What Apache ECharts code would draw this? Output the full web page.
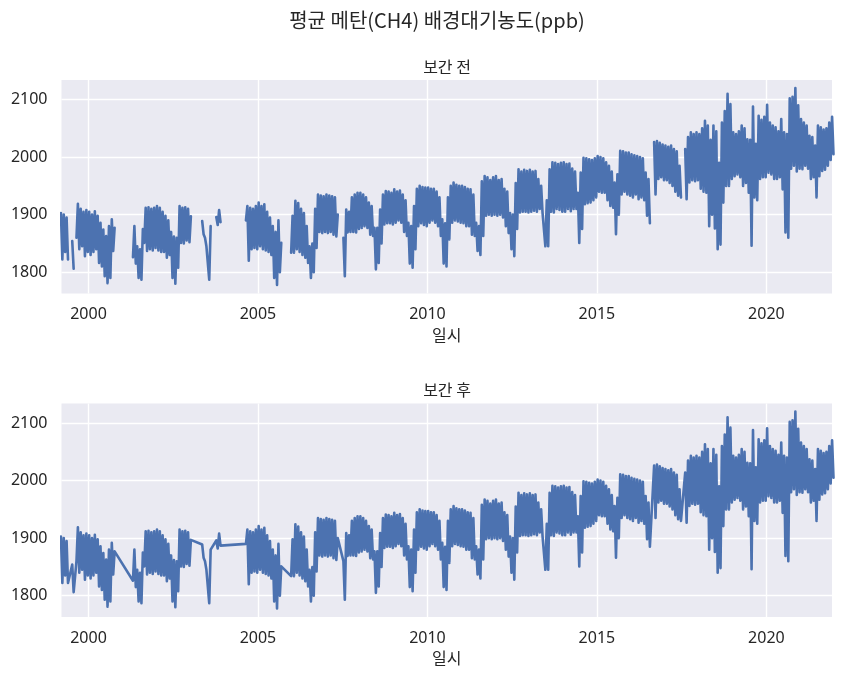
<!DOCTYPE html>
<html><head><meta charset="utf-8">
<script src="https://cdn.jsdelivr.net/npm/echarts@6/dist/echarts.min.js"></script>
<style>html,body{margin:0;padding:0;background:#fff}#c{width:845px;height:678px}</style>
</head><body><div id="c"></div>
<script>
const startYear = 1999;
const tickYears = [2000, 2005, 2010, 2015, 2020];
const yTicks = [1800, 1900, 2000, 2100];
const mainTitle = '평균 메탄(CH4) 배경대기농도(ppb)';
const panelTitles = ['보간 전', '보간 후'];
const xName = '일시';

// monthly upper envelope (Jan..Dec per row, 1999..2021); null = no measurement
const monthHigh = [
  null,null,1903,1900,1895,null,1854,null,1919,1910,1905,1908,
  1905,1900,1906,1898,1886,1874,1863,1880,1892,1877,null,null,
  null,null,null,null,1880,1845,1840,1875,1912,1913,1910,1912,
  1915,1912,1905,1898,1890,1870,1862,1860,1915,1912,1913,1910,
  1897,null,null,null,1889,1860,1845,1880,null,1896,1908,null,
  null,null,null,null,null,null,null,null,1915,1912,1910,1915,
  1921,1915,1918,1905,1895,1880,1870,1890,1851,null,null,null,
  1898,1924,1920,1910,1903,1880,1845,1850,1910,1935,1933,1932,
  1935,1933,1932,1930,1900,null,1860,1909,1905,1930,1935,1938,
  1938,1935,1930,1921,1915,1877,1877,1909,1935,1941,1940,1938,
  1944,1940,1942,1935,1925,1886,1880,1915,1945,1950,1948,1947,
  1947,1945,1945,1940,1930,1892,1885,1930,1950,1956,1952,1950,
  1950,1948,1945,1944,1935,1886,1880,1958,1967,1965,1960,1965,
  1967,1960,1962,1945,1940,1903,1900,1955,1979,1975,1978,1976,
  1978,1975,1976,1962,1950,1901,1925,1979,1991,1990,1988,1990,
  1991,1988,1989,1980,1975,1938,1973,1999,1998,1996,1995,1998,
  2002,2000,1998,1991,1985,1975,1956,1970,2011,2010,2008,2008,
  2005,2003,2002,2000,1998,1973,1962,null,2026,2028,2025,2022,
  2020,2018,2020,2014,2010,1985,null,2014,2035,2043,2040,2043,
  2040,2050,2063,2055,2030,2055,2045,1990,2060,2080,2110,2092,
  2043,2040,2045,2055,2050,2031,2030,2088,2023,2072,2065,2070,
  2091,2060,2055,2052,2045,2066,2043,2040,2102,2105,2120,2090,
  2066,2060,2055,2037,2035,2020,2055,2052,2048,2050,2060,2070
];
// monthly lower envelope
const monthLow = [
  null,null,1822,1835,1822,null,1806,1860,1840,1845,1828,1835,
  1830,1835,1840,1816,1810,1793,1781,1790,1837,null,null,null,
  null,null,null,1826,1815,1790,1787,1851,1837,1840,1838,1842,
  1838,1835,1835,1825,1830,1790,1780,1808,1851,1850,1855,1852,
  null,null,null,null,1866,1845,1787,null,null,1882,1887,null,
  null,null,null,null,null,null,null,1890,1820,1840,1842,1840,
  1845,1840,1838,1835,1830,1790,1778,1800,null,null,null,1834,
  1834,1840,1835,1830,1825,1816,1790,1800,1842,1870,1868,1870,
  1868,1870,1865,1862,null,null,1793,1869,1870,1870,1869,1875,
  1877,1880,1877,1865,1863,1805,1816,1850,1883,1885,1885,1883,
  1886,1890,1886,1870,1863,1815,1808,1840,1880,1885,1882,1880,
  1886,1890,1886,1880,1863,1815,1810,1857,1886,1890,1888,1886,
  1885,1880,1880,1865,1863,1837,1830,1863,1898,1900,1898,1900,
  1898,1900,1895,1880,1868,1840,1828,1875,1904,1905,1905,1904,
  1905,1907,1905,1910,1903,1845,1845,1905,1904,1910,1908,1905,
  1905,1910,1906,1910,1910,1851,1875,1918,1920,1921,1925,1930,
  1940,1938,1938,1925,1915,1912,1866,1900,1935,1940,1935,1933,
  1930,1935,1927,1930,1925,1898,1885,null,1935,1962,1965,1960,
  1960,1955,1950,1940,1933,1930,null,1927,1956,1960,1958,1960,
  1945,1940,1938,1880,1900,1876,1840,1848,1921,1950,1950,1962,
  1967,1970,1965,1950,1955,1938,1846,1930,1925,1962,1965,1965,
  1973,1970,1962,1962,1965,1944,1869,1860,1980,1985,1975,1980,
  1979,1985,1980,1962,1965,1930,1967,1976,1978,1985,1995,2005
];

function buildData() {
  const d = [];
  for (let i = 0; i < monthHigh.length; i++) {
    const yr = startYear + Math.floor(i / 12), m = i % 12;
    const h = monthHigh[i], l = monthLow[i];
    d.push([yr + (m + 0.25) / 12, h == null ? '-' : h]);
    d.push([yr + (m + 0.75) / 12, l == null ? '-' : l]);
  }
  return d;
}
const seriesData = buildData();

const CJK = '"Noto Sans CJK KR", "Noto Sans", sans-serif';
const TXT = '#262626';
const BG = '#EAEAF2';

function xAxisOf(gi) {
  return {
    type: 'value', gridIndex: gi, min: 1999.204, max: 2021.935,
    name: xName, nameLocation: 'middle', nameGap: 33,
    nameTextStyle: { fontSize: 16, fontFamily: CJK, color: TXT },
    axisLine: { show: false }, axisTick: { show: false, customValues: tickYears },
    axisLabel: { customValues: tickYears, margin: 13, fontSize: 16, fontFamily: '"Noto Sans", sans-serif', color: TXT, formatter: v => String(v) },
    splitLine: { show: true, lineStyle: { color: '#fff', width: 1.4 } }
  };
}
function yAxisOf(gi) {
  return {
    type: 'value', gridIndex: gi, min: 1763, max: 2134,
    axisLine: { show: false }, axisTick: { show: false, customValues: yTicks },
    axisLabel: { customValues: yTicks, margin: 14, fontSize: 16, fontFamily: '"Noto Sans", sans-serif', color: TXT, formatter: v => String(v) },
    splitLine: { show: true, lineStyle: { color: '#fff', width: 1.4 } }
  };
}

const lineStyle = { color: '#4C72B0', width: 2.6, join: 'round', cap: 'round' };
const chart = echarts.init(document.getElementById('c'), null, { renderer: 'canvas' });
chart.setOption({
  animation: false,
  backgroundColor: '#fff',
  grid: [
    { left: 61.5, top: 80, width: 770.5, height: 213.5, containLabel: false, show: true, backgroundColor: BG, borderWidth: 0 },
    { left: 61.5, top: 403.5, width: 770.5, height: 213.5, containLabel: false, show: true, backgroundColor: BG, borderWidth: 0 }
  ],
  xAxis: [xAxisOf(0), xAxisOf(1)],
  yAxis: [yAxisOf(0), yAxisOf(1)],
  graphic: [
    { type: 'text', x: 437, y: 20, style: { text: mainTitle, fontSize: 20, fontFamily: CJK, fill: TXT, align: 'center', verticalAlign: 'middle' } },
    { type: 'text', x: 447, y: 67, style: { text: panelTitles[0], fontSize: 16, fontFamily: CJK, fill: TXT, align: 'center', verticalAlign: 'middle' } },
    { type: 'text', x: 447, y: 390, style: { text: panelTitles[1], fontSize: 16, fontFamily: CJK, fill: TXT, align: 'center', verticalAlign: 'middle' } }
  ],
  series: [
    { type: 'line', xAxisIndex: 0, yAxisIndex: 0, data: seriesData, showSymbol: false, connectNulls: false,
      lineStyle: lineStyle, itemStyle: { color: '#4C72B0' }, sampling: null, clip: true },
    { type: 'line', xAxisIndex: 1, yAxisIndex: 1, data: seriesData, showSymbol: false, connectNulls: true,
      lineStyle: lineStyle, itemStyle: { color: '#4C72B0' }, sampling: null, clip: true }
  ]
});
</script></body></html>
